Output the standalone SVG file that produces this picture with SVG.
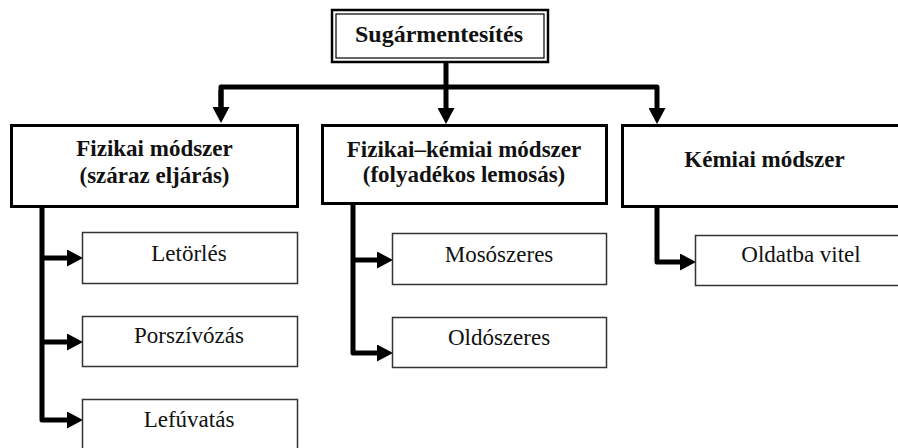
<svg xmlns="http://www.w3.org/2000/svg" width="898" height="448" viewBox="0 0 898 448">
<style>
  text { font-family: "Liberation Serif", "Times New Roman", "DejaVu Serif", serif; fill: #111; text-anchor: middle; }
  .b { font-weight: bold; font-size: 23px; }
  .t { font-weight: bold; font-size: 24px; }
  .r { font-size: 23px; }
  .main { fill: #fff; stroke: #000; stroke-width: 3; }
  .sub { fill: #fff; stroke: #333; stroke-width: 1.5; }
  .conn { fill: none; stroke: #000; stroke-width: 5; stroke-linejoin: round; }
</style>
<defs>
  <marker id="arr" viewBox="0 0 16 17" refX="0" refY="8.5" markerWidth="16" markerHeight="17" markerUnits="userSpaceOnUse" orient="auto">
    <path d="M0,0 L16,8.5 L0,17 Z" fill="#000"/>
  </marker>
</defs>
<rect width="898" height="448" fill="#fff"/>
<g id="connectors">
  <path class="conn" d="M221 107 V87 H657 V108" marker-end="url(#arr)"/>
  <path class="conn" d="M221 90 V107" marker-end="url(#arr)"/>
  <path class="conn" d="M446 63 V108" marker-end="url(#arr)"/>
  <path class="conn" d="M42 207 V420 H67" marker-end="url(#arr)"/>
  <path class="conn" d="M42 258 H67" marker-end="url(#arr)"/>
  <path class="conn" d="M42 342 H67" marker-end="url(#arr)"/>
  <path class="conn" d="M353 203 V353 H377" marker-end="url(#arr)"/>
  <path class="conn" d="M353 260 H377" marker-end="url(#arr)"/>
  <path class="conn" d="M657 207 V262 H680" marker-end="url(#arr)"/>
</g>
<g id="root">
  <rect x="332" y="10" width="216" height="52" fill="#fff" stroke="#000" stroke-width="2.5"/>
  <rect x="336" y="14" width="208" height="44" fill="none" stroke="#000" stroke-width="1.2"/>
  <text class="t" x="439" y="42">Sugármentesítés</text>
</g>
<g id="fizikai">
  <rect class="main" x="11.5" y="125.5" width="286" height="81"/>
  <text class="b" x="154.5" y="156">Fizikai módszer</text>
  <text class="b" x="154.5" y="183">(száraz eljárás)</text>
</g>
<g id="fizikai-kemiai">
  <rect class="main" x="322.5" y="125.5" width="284" height="78"/>
  <text class="b" x="464" y="157">Fizikai–kémiai módszer</text>
  <text class="b" x="464" y="182">(folyadékos lemosás)</text>
</g>
<g id="kemiai">
  <rect class="main" x="622.5" y="125.5" width="290" height="81"/>
  <text class="b" x="764.5" y="167">Kémiai módszer</text>
</g>
<g id="letorles">
  <rect class="sub" x="82.5" y="232.5" width="215" height="51"/>
  <text class="r" x="189" y="261">Letörlés</text>
</g>
<g id="porszivozas">
  <rect class="sub" x="82.5" y="316.5" width="215" height="50"/>
  <text class="r" x="189" y="343">Porszívózás</text>
</g>
<g id="lefuvatas">
  <rect class="sub" x="82.5" y="399.5" width="215" height="60"/>
  <text class="r" x="189" y="427">Lefúvatás</text>
</g>
<g id="mososzeres">
  <rect class="sub" x="392.5" y="233.5" width="214" height="51"/>
  <text class="r" x="499" y="262">Mosószeres</text>
</g>
<g id="oldoszeres">
  <rect class="sub" x="392.5" y="317.5" width="214" height="50"/>
  <text class="r" x="499" y="345">Oldószeres</text>
</g>
<g id="oldatba">
  <rect class="sub" x="695.5" y="235.5" width="215" height="50"/>
  <text class="r" x="801" y="262">Oldatba vitel</text>
</g>
</svg>
